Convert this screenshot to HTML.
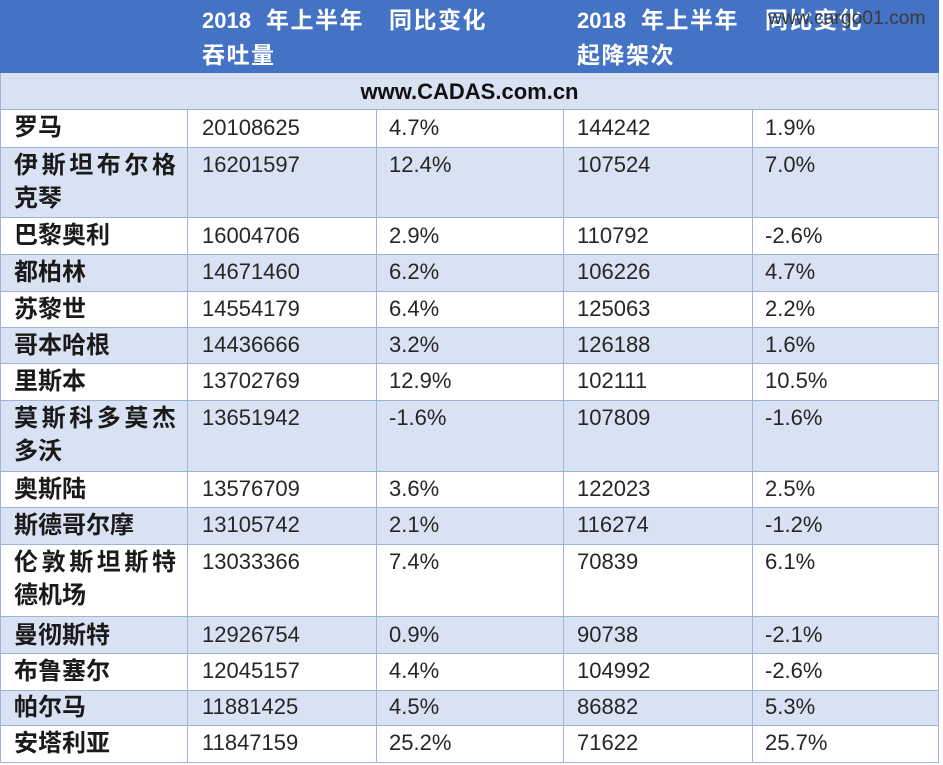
<!DOCTYPE html>
<html><head><meta charset="utf-8">
<style>
html,body{margin:0;padding:0;background:#fff;}
#c{position:relative;width:943px;height:765px;overflow:hidden;background:#fff;font-family:"Liberation Sans","Noto Sans CJK SC",sans-serif;}
.bg{position:absolute;left:0;width:939px;}
.h{position:absolute;height:1px;left:0;width:939px;background:#9db3d9;}
.v{position:absolute;width:1px;background:#9db3d9;}
.t{position:absolute;font-size:22px;line-height:34px;color:#262626;white-space:nowrap;}
.n{font-family:"Liberation Sans",sans-serif;}
.cj{font-family:"Liberation Sans","Noto Sans CJK SC",sans-serif;font-weight:bold;font-size:24px;letter-spacing:0;color:#1a1a1a;line-height:33px;}
.j{text-align:justify;text-align-last:justify;width:162px;letter-spacing:0;}
.hd{position:absolute;font-size:22px;line-height:35px;color:#fff;font-weight:bold;white-space:nowrap;font-family:"Liberation Sans","Noto Sans CJK SC",sans-serif;}
.hd .k{font-size:23px;letter-spacing:1.5px;}
</style></head><body>
<div id="c">
<div class="bg" style="top:0;height:73px;background:#4472c4;"></div>
<div class="bg" style="top:73px;height:36px;background:#d9e2f3;"></div>
<div class="bg" style="top:109px;height:38px;background:#fff;"></div>
<div class="bg" style="top:147px;height:70px;background:#d9e2f3;"></div>
<div class="bg" style="top:217px;height:37px;background:#fff;"></div>
<div class="bg" style="top:254px;height:37px;background:#d9e2f3;"></div>
<div class="bg" style="top:291px;height:36px;background:#fff;"></div>
<div class="bg" style="top:327px;height:36px;background:#d9e2f3;"></div>
<div class="bg" style="top:363px;height:37px;background:#fff;"></div>
<div class="bg" style="top:400px;height:71px;background:#d9e2f3;"></div>
<div class="bg" style="top:471px;height:36px;background:#fff;"></div>
<div class="bg" style="top:507px;height:37px;background:#d9e2f3;"></div>
<div class="bg" style="top:544px;height:72px;background:#fff;"></div>
<div class="bg" style="top:616px;height:37px;background:#d9e2f3;"></div>
<div class="bg" style="top:653px;height:37px;background:#fff;"></div>
<div class="bg" style="top:690px;height:35px;background:#d9e2f3;"></div>
<div class="bg" style="top:725px;height:37px;background:#fff;"></div>

<div class="h" style="top:109px"></div>
<div class="h" style="top:147px"></div>
<div class="h" style="top:217px"></div>
<div class="h" style="top:254px"></div>
<div class="h" style="top:291px"></div>
<div class="h" style="top:327px"></div>
<div class="h" style="top:363px"></div>
<div class="h" style="top:400px"></div>
<div class="h" style="top:471px"></div>
<div class="h" style="top:507px"></div>
<div class="h" style="top:544px"></div>
<div class="h" style="top:616px"></div>
<div class="h" style="top:653px"></div>
<div class="h" style="top:690px"></div>
<div class="h" style="top:725px"></div>
<div class="h" style="top:762px"></div>

<div class="v" style="left:0;top:73px;height:690px"></div>
<div class="v" style="left:938px;top:73px;height:690px"></div>
<div class="v" style="left:187px;top:109px;height:654px"></div>
<div class="v" style="left:376px;top:109px;height:654px"></div>
<div class="v" style="left:563px;top:109px;height:654px"></div>
<div class="v" style="left:752px;top:109px;height:654px"></div>

<!-- header -->
<div class="hd" style="left:202px;top:3px">2018<span class="k" style="margin-left:15px">年上半年</span><br><span class="k">吞吐量</span></div>
<div class="hd" style="left:389px;top:3px"><span class="k">同比变化</span></div>
<div class="hd" style="left:577px;top:3px">2018<span class="k" style="margin-left:15px">年上半年</span><br><span class="k">起降架次</span></div>
<div class="hd" style="left:765px;top:3px"><span class="k">同比变化</span></div>
<div style="position:absolute;left:768px;top:7px;font-family:'Liberation Sans',sans-serif;font-size:19.3px;line-height:24px;color:#3a3a3a;white-space:nowrap;">www.cargo01.com</div>

<div class="t" style="left:0;width:939px;text-align:center;top:75px;font-weight:bold;color:#111;font-family:'Liberation Sans',sans-serif;">www.CADAS.com.cn</div>

<!-- rows -->
<div class="t cj" style="left:14px;top:111px">罗马</div>
<div class="t n" style="left:202px;top:111px">20108625</div>
<div class="t n" style="left:389px;top:111px">4.7%</div>
<div class="t n" style="left:577px;top:111px">144242</div>
<div class="t n" style="left:765px;top:111px">1.9%</div>

<div class="t cj" style="left:14px;top:149px;white-space:normal;"><div class="j">伊斯坦布尔格</div><div>克琴</div></div>
<div class="t n" style="left:202px;top:148px">16201597</div>
<div class="t n" style="left:389px;top:148px">12.4%</div>
<div class="t n" style="left:577px;top:148px">107524</div>
<div class="t n" style="left:765px;top:148px">7.0%</div>

<div class="t cj" style="left:14px;top:219px">巴黎奥利</div>
<div class="t n" style="left:202px;top:219px">16004706</div>
<div class="t n" style="left:389px;top:219px">2.9%</div>
<div class="t n" style="left:577px;top:219px">110792</div>
<div class="t n" style="left:765px;top:219px">-2.6%</div>

<div class="t cj" style="left:14px;top:256px">都柏林</div>
<div class="t n" style="left:202px;top:255px">14671460</div>
<div class="t n" style="left:389px;top:255px">6.2%</div>
<div class="t n" style="left:577px;top:255px">106226</div>
<div class="t n" style="left:765px;top:255px">4.7%</div>

<div class="t cj" style="left:14px;top:293px">苏黎世</div>
<div class="t n" style="left:202px;top:292px">14554179</div>
<div class="t n" style="left:389px;top:292px">6.4%</div>
<div class="t n" style="left:577px;top:292px">125063</div>
<div class="t n" style="left:765px;top:292px">2.2%</div>

<div class="t cj" style="left:14px;top:329px">哥本哈根</div>
<div class="t n" style="left:202px;top:328px">14436666</div>
<div class="t n" style="left:389px;top:328px">3.2%</div>
<div class="t n" style="left:577px;top:328px">126188</div>
<div class="t n" style="left:765px;top:328px">1.6%</div>

<div class="t cj" style="left:14px;top:365px">里斯本</div>
<div class="t n" style="left:202px;top:364px">13702769</div>
<div class="t n" style="left:389px;top:364px">12.9%</div>
<div class="t n" style="left:577px;top:364px">102111</div>
<div class="t n" style="left:765px;top:364px">10.5%</div>

<div class="t cj" style="left:14px;top:402px;white-space:normal;"><div class="j">莫斯科多莫杰</div><div>多沃</div></div>
<div class="t n" style="left:202px;top:401px">13651942</div>
<div class="t n" style="left:389px;top:401px">-1.6%</div>
<div class="t n" style="left:577px;top:401px">107809</div>
<div class="t n" style="left:765px;top:401px">-1.6%</div>

<div class="t cj" style="left:14px;top:473px">奥斯陆</div>
<div class="t n" style="left:202px;top:472px">13576709</div>
<div class="t n" style="left:389px;top:472px">3.6%</div>
<div class="t n" style="left:577px;top:472px">122023</div>
<div class="t n" style="left:765px;top:472px">2.5%</div>

<div class="t cj" style="left:14px;top:509px">斯德哥尔摩</div>
<div class="t n" style="left:202px;top:508px">13105742</div>
<div class="t n" style="left:389px;top:508px">2.1%</div>
<div class="t n" style="left:577px;top:508px">116274</div>
<div class="t n" style="left:765px;top:508px">-1.2%</div>

<div class="t cj" style="left:14px;top:546px;white-space:normal;"><div class="j">伦敦斯坦斯特</div><div>德机场</div></div>
<div class="t n" style="left:202px;top:545px">13033366</div>
<div class="t n" style="left:389px;top:545px">7.4%</div>
<div class="t n" style="left:577px;top:545px">70839</div>
<div class="t n" style="left:765px;top:545px">6.1%</div>

<div class="t cj" style="left:14px;top:619px">曼彻斯特</div>
<div class="t n" style="left:202px;top:618px">12926754</div>
<div class="t n" style="left:389px;top:618px">0.9%</div>
<div class="t n" style="left:577px;top:618px">90738</div>
<div class="t n" style="left:765px;top:618px">-2.1%</div>

<div class="t cj" style="left:14px;top:655px">布鲁塞尔</div>
<div class="t n" style="left:202px;top:654px">12045157</div>
<div class="t n" style="left:389px;top:654px">4.4%</div>
<div class="t n" style="left:577px;top:654px">104992</div>
<div class="t n" style="left:765px;top:654px">-2.6%</div>

<div class="t cj" style="left:14px;top:691px">帕尔马</div>
<div class="t n" style="left:202px;top:690px">11881425</div>
<div class="t n" style="left:389px;top:690px">4.5%</div>
<div class="t n" style="left:577px;top:690px">86882</div>
<div class="t n" style="left:765px;top:690px">5.3%</div>

<div class="t cj" style="left:14px;top:727px">安塔利亚</div>
<div class="t n" style="left:202px;top:726px">11847159</div>
<div class="t n" style="left:389px;top:726px">25.2%</div>
<div class="t n" style="left:577px;top:726px">71622</div>
<div class="t n" style="left:765px;top:726px">25.7%</div>
</div>
</body></html>
